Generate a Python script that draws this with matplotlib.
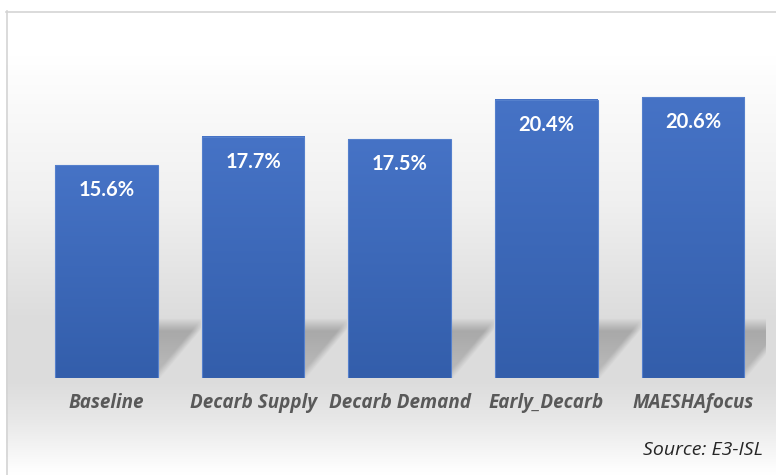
import numpy as np
import matplotlib
matplotlib.use("Agg")
import matplotlib.pyplot as plt
from matplotlib.lines import Line2D

# Share of scenario results (%)
scenarios = ["Baseline", "Decarb Supply", "Decarb Demand", "Early_Decarb", "MAESHAfocus"]
shares = [15.6, 17.7, 17.5, 20.4, 20.6]
source_note = "Source: E3-ISL"

W, H, DPI = 776, 475, 100
VALUE_FONT = "Lato"
LABEL_FONT = "Open Sans"

fig = plt.figure(figsize=(W / DPI, H / DPI), dpi=DPI)
fig.patch.set_facecolor("white")

# ---- backdrop: soft vertical grey gradient inside a framed panel ----
bg_ax = fig.add_axes([0, 0, 1, 1], zorder=0)
bg_ax.set_axis_off()
rows = np.arange(H, dtype=float)
level = np.interp(rows, [0, 55, 200, 320, 380, 420, 468, 475],
                  [255, 255, 240, 220, 220, 232, 253, 255])
bg = np.repeat(level[:, None], W, axis=1)
bg[:11, :] = 255
bg[:, :6] = 255
bg_img = np.dstack([bg, bg, bg]) / 255.0
bg_ax.imshow(bg_img, extent=(0, W, H, 0), aspect="auto", interpolation="nearest")
bg_ax.set_xlim(0, W)
bg_ax.set_ylim(H, 0)
bg_ax.add_line(Line2D([6.5, 6.5], [11, H], color="#d4d4d4", lw=1.2))
bg_ax.add_line(Line2D([6, W], [11.5, 11.5], color="#d4d4d4", lw=1.2))

# ---- main chart ----
left_px, right_px = 33.2, 766.2
base_px, top_px = 378.0, 78.0
ax = fig.add_axes([left_px / W, (H - base_px) / H,
                   (right_px - left_px) / W, (base_px - top_px) / H], zorder=1)
ax.patch.set_alpha(0)
for s in ax.spines.values():
    s.set_visible(False)
ax.tick_params(axis="both", length=0)
ax.set_yticks([])

x = np.arange(len(scenarios))
width = 0.70
gap = 1 - width

# cast shadows to the right of each bar
sh_h, sh_w = 120, 80
tt = np.linspace(1, 0, sh_h)[:, None]      # 1 at top, 0 at base
uu = np.linspace(0, 1, sh_w)[None, :]      # 0 at bar edge
top_fade = np.clip((1.0 - tt) / 0.22, 0, 1)
diag = np.clip((tt - 0.85 * uu) / 0.18 + 0.3, 0, 1)
strength = 0.55 + 0.45 * tt
alpha = 0.26 * top_fade * diag * strength
shadow = np.zeros((sh_h, sh_w, 4))
shadow[..., 3] = alpha
shadow_height = 4.4
for xi in x:
    ax.imshow(shadow, extent=(xi + width / 2, xi + width / 2 + gap * 0.97, 0, shadow_height),
              aspect="auto", interpolation="bilinear", zorder=1)

# bars with a top-to-bottom blue gradient
top_c = np.array([0x46, 0x73, 0xc6]) / 255.0
bot_c = np.array([0x33, 0x5e, 0xab]) / 255.0
grad = np.linspace(0, 1, 200)[:, None, None]
bar_img = top_c * (1 - grad) + bot_c * grad
for xi, v in zip(x, shares):
    ax.imshow(bar_img, extent=(xi - width / 2, xi + width / 2, 0, v),
              aspect="auto", interpolation="bilinear", zorder=2)
ax.bar(x, shares, width=width, facecolor="none", edgecolor="#5580cc",
       linewidth=0.8, zorder=3)

for xi, v in zip(x, shares):
    ax.annotate(f"{v:.1f}%", xy=(xi, v), xytext=(0, -25), textcoords="offset pixels",
                ha="center", va="center", color="white", fontsize=14.5,
                fontweight="bold", family=VALUE_FONT, zorder=4)

ax.set_xticks(x)
ax.set_xticklabels(scenarios, fontsize=13.6, fontweight="bold", fontstyle="italic",
                   color="#595959", family=LABEL_FONT)
ax.tick_params(axis="x", pad=11)
ax.set_xlim(-0.5, len(scenarios) - 0.5)
ax.set_ylim(0, 22)

fig.text(763 / W, 1 - 450 / H, source_note, ha="right", va="center", fontsize=14,
         fontstyle="italic", color="#262626", family=LABEL_FONT)

fig.savefig("out.png", dpi=DPI)
